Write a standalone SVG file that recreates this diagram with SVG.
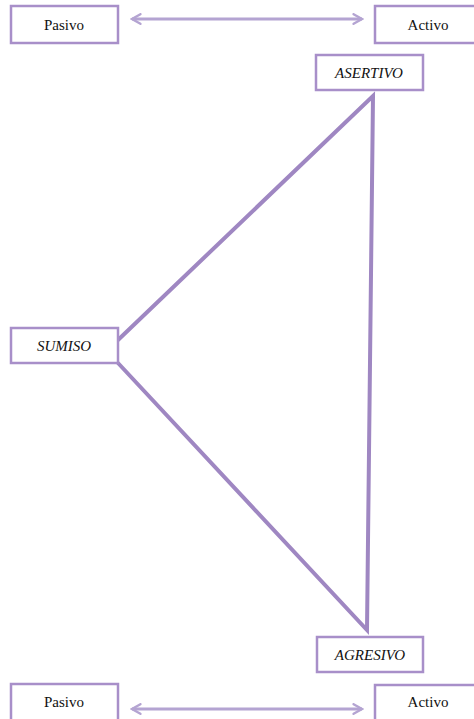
<svg xmlns="http://www.w3.org/2000/svg" width="474" height="719" viewBox="0 0 474 719">
<style>
.box{fill:#fff;stroke:#a88fc9;stroke-width:2.5}
.t{font-family:"Liberation Serif",serif;font-size:15px;fill:#111;text-anchor:middle}
.i{font-style:italic}
.arr{stroke:#b4a4d2;stroke-width:3;fill:none}
.tri{stroke:#9f87c2;stroke-width:4;fill:none;stroke-linecap:round}
</style>
<defs>
<marker id="ah" viewBox="0 0 10 10" refX="8" refY="5" markerWidth="4" markerHeight="4" orient="auto-start-reverse">
<path d="M1,1 L8,5 L1,9" fill="none" stroke="#b4a4d2" stroke-width="2" stroke-linecap="round"/>
</marker>
</defs>
<rect width="474" height="719" fill="#fff"/>
<g id="connectors">
<line class="arr" x1="132" y1="19" x2="362" y2="19" marker-start="url(#ah)" marker-end="url(#ah)"/>
<line class="arr" x1="132" y1="709" x2="362" y2="709" marker-start="url(#ah)" marker-end="url(#ah)"/>
<path class="tri" d="M118,340 L373,96 L367,630 L118,363"/>
</g>
<g id="pasivo-top"><rect class="box" x="11" y="6" width="107" height="37"/><text class="t" x="64" y="30">Pasivo</text></g>
<g id="activo-top"><rect class="box" x="375" y="6" width="107" height="37"/><text class="t" x="428" y="30">Activo</text></g>
<g id="asertivo"><rect class="box" x="316" y="55" width="107" height="35"/><text class="t i" x="369" y="78">ASERTIVO</text></g>
<g id="sumiso"><rect class="box" x="11" y="328" width="107" height="35"/><text class="t i" x="64" y="351">SUMISO</text></g>
<g id="agresivo"><rect class="box" x="317" y="637" width="106" height="35"/><text class="t i" x="370" y="660">AGRESIVO</text></g>
<g id="pasivo-bottom"><rect class="box" x="11" y="684" width="107" height="40"/><text class="t" x="64" y="707">Pasivo</text></g>
<g id="activo-bottom"><rect class="box" x="375" y="685" width="107" height="40"/><text class="t" x="428" y="707">Activo</text></g>
</svg>
